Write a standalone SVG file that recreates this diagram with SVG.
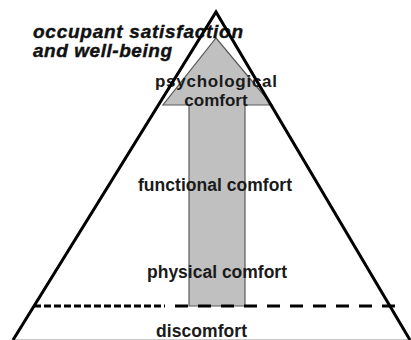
<svg xmlns="http://www.w3.org/2000/svg" width="411" height="340" viewBox="0 0 411 340">
<style>
.lbl{font-family:"Liberation Sans",Arial,sans-serif;font-weight:bold;font-size:17.5px;fill:#1a1a1a}
.title{font-family:"Liberation Sans",Arial,sans-serif;font-weight:bold;font-style:italic;font-size:19px;fill:#111;stroke:#111;stroke-width:0.4}
.edge{fill:none;stroke:#000;stroke-width:3;stroke-linejoin:miter}
</style>
<rect width="411" height="340" fill="#fff"/>
<g id="arrow">
<path d="M216,38 L272,105 L245,105 L245,306 L189,306 L189,105 L163,105 Z" fill="#c0c0c0" stroke="#5a5a5a" stroke-width="1.2"/>
</g>
<g id="title">
<text class="title" x="33" y="38" textLength="210" lengthAdjust="spacing">occupant satisfaction</text>
<text class="title" x="33" y="57" textLength="139" lengthAdjust="spacing">and well-being</text>
</g>
<g id="psychological">
<text class="lbl" x="155" y="87" textLength="122" lengthAdjust="spacing" style="font-size:17px">psychological</text>
<text class="lbl" x="216" y="106" text-anchor="middle" style="font-size:17px">comfort</text>
</g>
<g id="functional">
<text class="lbl" x="138" y="191" textLength="154" lengthAdjust="spacing">functional comfort</text>
</g>
<g id="physical">
<text class="lbl" x="147" y="278" textLength="140" lengthAdjust="spacing">physical comfort</text>
</g>
<g id="discomfort">
<text class="lbl" x="156" y="337" textLength="91" lengthAdjust="spacing">discomfort</text>
</g>
<g id="connectors">
<line x1="14" y1="339.5" x2="411" y2="339.5" stroke="#c8c8c8" stroke-width="1"/>
<line x1="34" y1="306" x2="165" y2="306" stroke="#000" stroke-width="3" stroke-dasharray="7,3"/>
<line x1="175" y1="306" x2="397" y2="306" stroke="#000" stroke-width="3" stroke-dasharray="13,10"/>
<path class="edge" d="M13,340 L216,12 L410,340"/>
</g>
</svg>
